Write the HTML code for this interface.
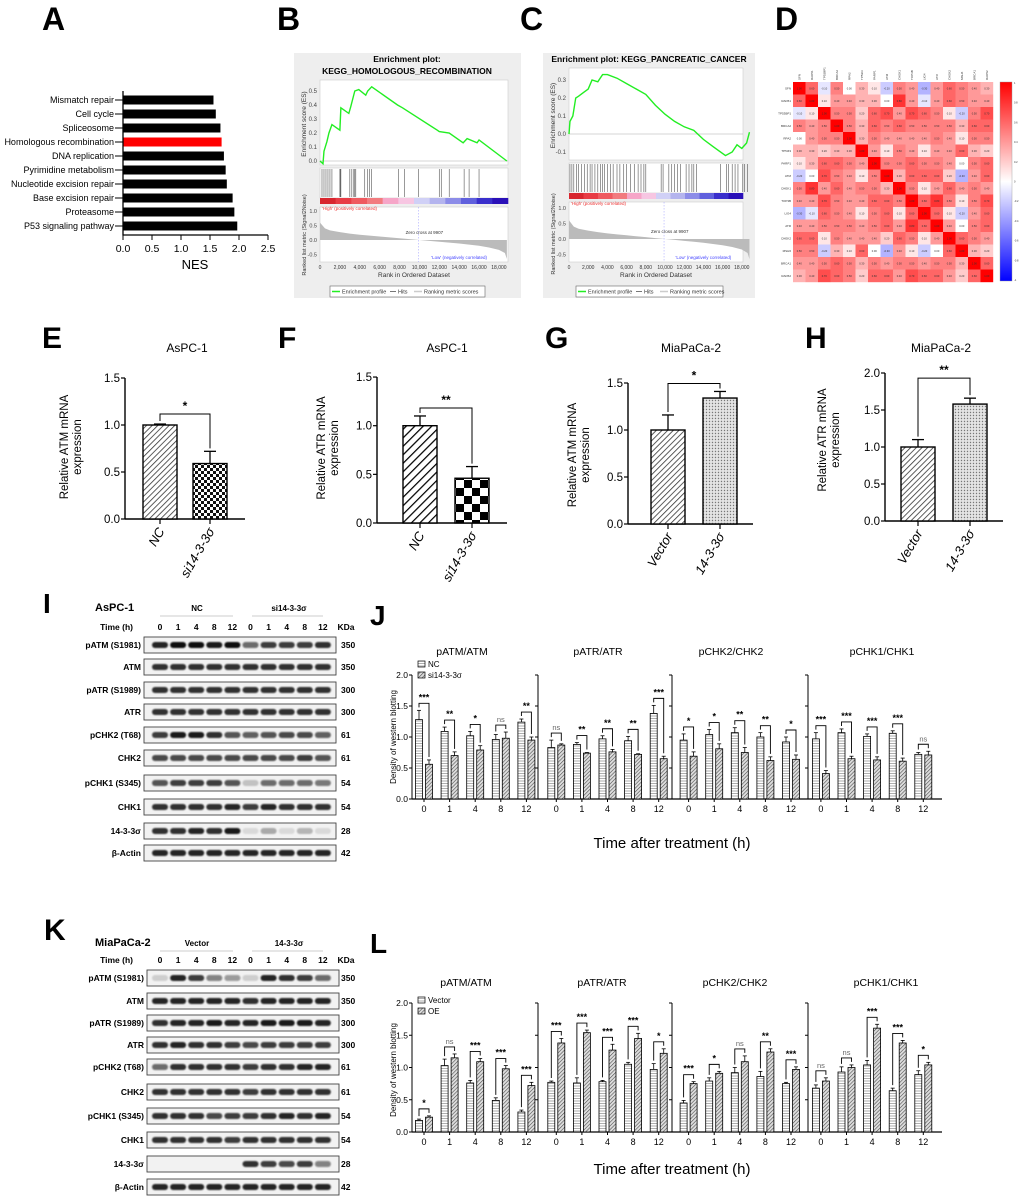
<!DOCTYPE html>
<html><head><meta charset="utf-8">
<style>
html,body{margin:0;padding:0;background:#fff;}
svg{display:block;font-family:"Liberation Sans",sans-serif;}
</style></head>
<body>
<svg id="fig" width="1020" height="1204" viewBox="0 0 1020 1204" xmlns="http://www.w3.org/2000/svg">
<defs>
<pattern id="pDiag" patternUnits="userSpaceOnUse" width="4" height="4" patternTransform="rotate(45)"><rect width="4" height="4" fill="#fff"/><line x1="0" y1="0" x2="0" y2="4" stroke="#333" stroke-width="1.6"/></pattern>
<pattern id="pDiagW" patternUnits="userSpaceOnUse" width="6" height="6" patternTransform="rotate(45)"><rect width="6" height="6" fill="#fff"/><line x1="0" y1="0" x2="0" y2="6" stroke="#000" stroke-width="2.5"/></pattern>
<pattern id="pCheckS" patternUnits="userSpaceOnUse" width="6" height="6"><rect width="6" height="6" fill="#fff"/><rect width="3" height="3" fill="#111"/><rect x="3" y="3" width="3" height="3" fill="#111"/></pattern>
<pattern id="pCheckB" patternUnits="userSpaceOnUse" width="16" height="16"><rect width="16" height="16" fill="#fff"/><rect width="8" height="8" fill="#000"/><rect x="8" y="8" width="8" height="8" fill="#000"/></pattern>
<pattern id="pDots" patternUnits="userSpaceOnUse" width="3" height="3"><rect width="3" height="3" fill="#e4e4e4"/><circle cx="1.5" cy="1.5" r="0.7" fill="#777"/></pattern>
<pattern id="pHl" patternUnits="userSpaceOnUse" width="3" height="2.5"><rect width="3" height="2.5" fill="#fff"/><line x1="0" y1="1" x2="3" y2="1" stroke="#999" stroke-width="0.8"/></pattern>
<pattern id="pDd" patternUnits="userSpaceOnUse" width="2.6" height="2.6" patternTransform="rotate(45)"><rect width="2.6" height="2.6" fill="#ddd"/><line x1="0" y1="0" x2="0" y2="2.6" stroke="#444" stroke-width="1.1"/></pattern>
<linearGradient id="gCb" x1="0" y1="0" x2="0" y2="1"><stop offset="0" stop-color="#ff0000"/><stop offset="0.5" stop-color="#ffffff"/><stop offset="1" stop-color="#0000ff"/></linearGradient>
<filter id="fBlur" x="-20%" y="-50%" width="140%" height="200%"><feGaussianBlur stdDeviation="0.8"/></filter>
</defs>
</svg>
<script>
// ---------- DATA ----------
const pathways=['Mismatch repair','Cell cycle','Spliceosome','Homologous recombination','DNA replication','Pyrimidine metabolism','Nucleotide excision repair','Base excision repair','Proteasome','P53 signaling pathway'];
const nesValues=[1.56,1.60,1.68,1.70,1.74,1.77,1.79,1.89,1.92,1.97];
const nesTicks=[0,0.5,1.0,1.5,2.0,2.5];

const bRanks=[0,0.3,0.4,0.7,0.9,1.2,2.0,2.1,2.9,3.1,3.5,3.9,4.6,4.8,5.2,7.8,8.3,11.8,12.0,13.0,14.4,14.8,15.8,16.0,18.8];
const bES=[0,-0.02,0.07,0.14,0.2,0.26,0.22,0.38,0.34,0.39,0.5,0.51,0.47,0.5,0.53,0.4,0.38,0.22,0.21,0.2,0.13,0.16,0.13,0.15,0];
const bHits=[0.2,0.4,0.6,0.8,1.0,1.2,2.0,2.05,2.1,3.0,3.2,3.4,3.5,3.6,4.5,4.8,5.0,5.2,7.9,8.5,9.9,12.0,12.2,13.0,14.5,15.0,16.0];
const cRanks=[0,0.1,0.4,0.7,1,1.5,2,2.4,3,3.5,4,5,6,7,8,9,10,11,12,13,14,15,16.3,17,17.5,18,18.5,18.8];
const cES=[0,0.07,0.1,0.2,0.21,0.23,0.25,0.3,0.29,0.33,0.33,0.31,0.28,0.25,0.22,0.16,0.11,0.07,0.04,0.02,-0.03,-0.07,-0.12,-0.1,-0.06,-0.08,-0.05,0.01];
const cHits=[0.1,0.3,0.5,0.8,1.0,1.3,1.6,1.9,2.2,2.4,2.7,3.0,3.3,3.5,3.7,4.0,4.3,4.6,5.0,5.3,5.7,6.0,6.4,6.8,7.2,7.5,7.8,8.0,9.6,9.8,10.4,10.7,11.0,11.3,11.6,12.2,12.5,12.8,13.0,13.3,15.8,16.4,16.6,17.0,17.3,17.6,18.1,18.3,18.6];
const metricRanks=[0,0.5,1,2,3,4,5,6,7,8,9,10,11,12,13,14,15,16,17,18,18.6,18.8];
const metricVals=[0.6,0.4,0.33,0.27,0.22,0.18,0.15,0.12,0.09,0.06,0.03,0,-0.03,-0.06,-0.09,-0.12,-0.16,-0.2,-0.26,-0.34,-0.45,-0.65];
const colorBarCols=['#d8262f','#e83c45','#ef5a60','#f27b7f','#f6a6c8','#f7c6e2','#d0d0f6','#b4b4ee','#8c8ce8','#6060dd','#3a2fcc','#2a10b8'];
const rankTicks=[0,2000,4000,6000,8000,10000,12000,14000,16000,18000];

const genes=['SFN','RAD51','TP53BP1','BRCA2','RPA2','TP53I3','PARP1','ATM','CHEK1','TOP3B','LIG4','ATR','CHEK2','MSH6','BRCA1','RAD52'];
const corrRows=[
[1,.6,-.1,.5,0,.3,.1,-.2,.5,.4,-.3,.4,.6,.5,.4,.3],
[.6,1,.1,.4,.4,.3,.3,0,.8,.4,-.1,.4,.6,.5,.4,.4],
[-.1,.1,1,.5,.5,.2,.6,.7,.4,.7,.6,.5,.1,-.2,.5,.7],
[.5,.4,.5,1,.5,.3,.6,.5,.6,.5,.5,.5,.5,.3,.6,.6],
[0,.4,.5,.5,1,.3,.5,.4,.4,.4,.4,.5,.4,.1,.5,.5],
[.3,.3,.2,.3,.3,1,.4,.1,.5,.4,.1,.4,.4,.6,.3,.2],
[.1,.3,.6,.6,.5,.4,1,.5,.5,.6,.5,.5,.4,0,.5,.6],
[-.2,0,.7,.5,.4,.1,.5,1,.3,.6,.6,.6,.2,-.3,.4,.6],
[.5,.8,.4,.6,.4,.5,.5,.3,1,.5,.1,.4,.6,.4,.5,.4],
[.4,.4,.7,.5,.4,.4,.6,.6,.5,1,.6,.8,.5,.1,.5,.7],
[-.3,-.1,.6,.5,.4,.1,.5,.6,.1,.6,1,.6,.1,-.2,.4,.6],
[.4,.4,.5,.5,.5,.4,.5,.6,.4,.8,.6,1,.4,0,.5,.6],
[.6,.6,.1,.5,.4,.4,.4,.2,.6,.5,.1,.4,1,.6,.5,.4],
[.5,.5,-.2,.3,.1,.6,0,-.3,.4,.1,-.2,0,.6,1,.3,.2],
[.4,.4,.5,.6,.5,.3,.5,.4,.5,.5,.4,.5,.5,.3,1,.6],
[.3,.4,.7,.6,.5,.2,.6,.6,.4,.7,.6,.6,.4,.2,.6,1]];

const eCats=['NC','si14-3-3σ'], eValues=[1.0,0.59], eErrors=[0.01,0.13], eTicks=[0,0.5,1.0,1.5];
const fCats=['NC','si14-3-3σ'], fValues=[1.0,0.46], fErrors=[0.1,0.12], fTicks=[0,0.5,1.0,1.5];
const gCats=['Vector','14-3-3σ'], gValues=[1.0,1.34], gErrors=[0.16,0.07], gTicks=[0,0.5,1.0,1.5];
const hCats=['Vector','14-3-3σ'], hValues=[1.0,1.58], hErrors=[0.1,0.08], hTicks=[0,0.5,1.0,1.5,2.0];

const wbGroups=['pATM/ATM','pATR/ATR','pCHK2/CHK2','pCHK1/CHK1'];
const wbTimes=['0','1','4','8','12'];
const wbTicks=[0,0.5,1.0,1.5,2.0];
const jCtrl=[1.28,1.09,1.02,0.96,1.24, 0.83,0.88,0.97,0.94,1.38, 0.95,1.04,1.07,1.0,0.92, 0.97,1.07,1.01,1.06,0.72];
const jTreat=[0.56,0.70,0.79,0.98,0.95, 0.87,0.74,0.76,0.72,0.65, 0.69,0.81,0.75,0.62,0.64, 0.41,0.65,0.63,0.61,0.71];
const jCtrlErr=[.15,.07,.07,.08,.05, .12,.03,.05,.07,.13, .1,.08,.08,.07,.08, .1,.06,.04,.04,.03];
const jTreatErr=[.07,.06,.07,.1,.05, .02,.01,.04,.01,.04, .07,.08,.08,.06,.07, .05,.04,.05,.05,.06];
const jSig=['***','**','*','ns','**','ns','**','**','**','***','*','*','**','**','*','***','***','***','***','ns'];
const lCtrl=[0.18,1.03,0.76,0.49,0.31, 0.77,0.76,0.78,1.05,0.97, 0.45,0.79,0.92,0.86,0.75, 0.68,0.93,1.04,0.64,0.89];
const lTreat=[0.23,1.15,1.09,0.98,0.72, 1.38,1.54,1.27,1.45,1.22, 0.75,0.91,1.09,1.24,0.97, 0.79,1.00,1.61,1.38,1.04];
const lCtrlErr=[.02,.1,.04,.04,.03, .02,.08,.02,.03,.09, .04,.05,.08,.08,.02, .05,.08,.07,.04,.06];
const lTreatErr=[.02,.06,.05,.05,.05, .07,.04,.09,.08,.07, .03,.03,.09,.05,.04, .05,.04,.06,.04,.04];
const lSig=['*','ns','***','***','***','***','***','***','***','*','***','*','ns','**','***','ns','ns','***','***','*'];

const blotProteins=['pATM (S1981)','ATM','pATR (S1989)','ATR','pCHK2 (T68)','CHK2','pCHK1 (S345)','CHK1','14-3-3σ','β-Actin'];
const blotKDa=['350','350','300','300','61','61','54','54','28','42'];
const blotLanes=['0','1','4','8','12','0','1','4','8','12'];
const iIntens=[
[.9,1,1,.95,1,.6,.8,.8,.8,.85],[.85,.85,.85,.85,.85,.85,.85,.85,.85,.85],[.85,.85,.85,.85,.85,.85,.85,.85,.85,.85],[.85,.85,.85,.85,.85,.85,.85,.85,.85,.85],
[.8,.95,.95,.85,.7,.65,.7,.75,.75,.65],[.75,.75,.75,.75,.75,.75,.75,.75,.8,.7],[.7,.8,.8,.8,.7,.2,.6,.6,.6,.55],[.85,.85,.85,.85,.9,.8,.9,.85,.85,.85],
[.85,.85,.9,.85,.95,.1,.3,.1,.25,.1],[.9,.9,.9,.9,.9,.9,.9,.9,.9,.9]];
const kIntens=[
[.15,.9,.8,.5,.4,.15,.9,.85,.8,.6],[.9,.9,.9,.9,.9,.85,.9,.9,.9,.9],[.85,.9,.9,.95,.9,.9,.95,.95,.95,.9],[.85,.9,.85,.85,.8,.75,.8,.8,.8,.8],
[.6,.85,.85,.85,.85,.8,.85,.85,.9,.9],[.85,.85,.85,.85,.85,.8,.85,.85,.85,.85],[.85,.85,.85,.75,.8,.8,.85,.9,.85,.9],[.85,.85,.85,.85,.8,.85,.85,.85,.85,.85],
[0,0,0,0,0,.85,.8,.75,.8,.5],[.9,.9,.9,.9,.9,.9,.9,.9,.9,.9]];

// ---------- HELPERS ----------
const NS='http://www.w3.org/2000/svg';
const svg=document.getElementById('fig');
function mk(tag,attrs,parent){const e=document.createElementNS(NS,tag);for(const k in attrs)e.setAttribute(k,attrs[k]);(parent||svg).appendChild(e);return e;}
function tx(x,y,s,attrs,parent){const e=mk('text',Object.assign({x:x,y:y},attrs||{}),parent);e.textContent=s;return e;}
function grp(name){const g=mk('g',{});return g;}
function line(x1,y1,x2,y2,st,sw,p){return mk('line',{x1:x1,y1:y1,x2:x2,y2:y2,stroke:st||'#000','stroke-width':sw||1},p);}

// ---------- PANEL LETTERS ----------
const letters=[['A',42,30,32],['B',277,30,32],['C',520,30,32],['D',775,30,32],['E',42,348,30],['F',278,348,30],['G',545,348,30],['H',805,348,30],['I',43,613,28],['J',370,625,28],['K',44,940,30],['L',370,953,28]];
letters.forEach(l=>{const t=tx(l[1],l[2],l[0],{'font-size':l[3],'font-weight':'bold'});

});

// ---------- PANEL A ----------
(function(){
const g=grp('panel-a-nes-chart');
const xA=v=>123+v*58; const yA=i=>100+i*14;
pathways.forEach((p,i)=>{
 const r=mk('rect',{x:xA(0),y:yA(i)-4.5,width:xA(nesValues[i])-xA(0),height:9,fill:p==='Homologous recombination'?'#ff0000':'#000'},g);
 
 
 const t=tx(114,yA(i)+3.2,p,{'font-size':9,'text-anchor':'end'},g);
 
 
 line(115,yA(i),123,yA(i),'#000',1,g);
});
line(123,91,123,235.5,'#000',1.3,g); line(123,235,xA(2.5),235,'#000',1.3,g);
nesTicks.forEach(v=>{line(xA(v),235,xA(v),240,'#000',1,g);
 const t=tx(xA(v),252,v.toFixed(1),{'font-size':10.5,'text-anchor':'middle'},g);
 
 });
const t=tx(195,269,'NES',{'font-size':13,'text-anchor':'middle'},g);


})();

// ---------- GSEA B, C ----------
function gsea(cfg){
 const g=grp(cfg.name);
 mk('rect',{x:cfg.bx,y:53,width:cfg.bw,height:245,fill:'#eeeeee'},g);
 const X=r=>cfg.x0+r*cfg.kx/1000, Y=v=>cfg.y0-v*cfg.ky, YM=v=>cfg.m0-v*cfg.mk;
 cfg.titles.forEach((s,i)=>{const t=tx(cfg.tx,cfg.ty+i*12,s,{'font-size':8.5,'font-weight':'bold','text-anchor':'middle'},g);
  
  });
 mk('rect',{x:cfg.x0,y:cfg.top,width:cfg.x1-cfg.x0,height:cfg.hitsTop-3-cfg.top,fill:'#fff',stroke:'#ccc','stroke-width':0.6},g);
 mk('rect',{x:cfg.x0,y:cfg.hitsTop,width:cfg.x1-cfg.x0,height:cfg.barTop-cfg.hitsTop,fill:'#fff',stroke:'#ccc','stroke-width':0.6},g);
 mk('rect',{x:cfg.x0,y:cfg.barTop+9,width:cfg.x1-cfg.x0,height:cfg.mBot-cfg.barTop-9,fill:'#fff',stroke:'#ccc','stroke-width':0.6},g);
 line(cfg.x0,Y(0),cfg.x1,Y(0),'#aaa',0.6,g);
 cfg.esTicks.forEach(v=>{const t=tx(cfg.x0-3,Y(v)+2,v.toFixed(1),{'font-size':6,'text-anchor':'end',fill:'#444'},g);
  
  });
 const pts=cfg.ranks.map((r,i)=>X(r*1000)+','+Y(cfg.es[i])).join(' ');
 const pl=mk('polyline',{points:pts,fill:'none',stroke:'#22ee22','stroke-width':1.4},g);
 
 
 cfg.hits.forEach(h=>{const l=line(X(h*1000),cfg.hitsTop+1,X(h*1000),cfg.barTop-1,'#555',0.6,g);
  
  });
 const sw=(cfg.x1-cfg.x0)/colorBarCols.length;
 colorBarCols.forEach((c,i)=>mk('rect',{x:cfg.x0+i*sw,y:cfg.barTop,width:sw+0.3,height:6,fill:c},g));
 tx(cfg.x0+2,cfg.barTop+12,"'High' (positively correlated)",{'font-size':4.5,fill:'#e33'},g);
 let mp='M'+X(0)+','+YM(0);
 metricRanks.forEach((r,i)=>{mp+=' L'+X(r*1000)+','+YM(metricVals[i]);});
 mp+=' L'+X(18800)+','+YM(0)+'Z';
 const ma=mk('path',{d:mp,fill:'#bbb'},g);
 
 
 line(X(9900),cfg.barTop+9,X(9900),cfg.mBot,'#99f',0.5,g).setAttribute('stroke-dasharray','1.5,1.5');
 tx(X(10500),YM(0)-6,'Zero cross at 9907',{'font-size':4.5,fill:'#333','text-anchor':'middle'},g);
 tx(X(14000),cfg.mBot-3,"'Low' (negatively correlated)",{'font-size':4.5,fill:'#44f','text-anchor':'middle'},g);
 [1.0,0.5,0.0,-0.5].forEach(v=>{const t=tx(cfg.x0-3,YM(v)+2,v.toFixed(1),{'font-size':5.5,'text-anchor':'end',fill:'#444'},g);
  
  });
 rankTicks.forEach(r=>{const t=tx(X(r),cfg.mBot+7,r===0?'0':r.toLocaleString('en-US'),{'font-size':5,'text-anchor':'middle',fill:'#333'},g);
  
  });
 const rl=tx((cfg.x0+cfg.x1)/2,277,'Rank in Ordered Dataset',{'font-size':6.5,'text-anchor':'middle',fill:'#333'},g);
 
 
 const yl=tx(0,0,'Enrichment score (ES)',{'font-size':6.5,'text-anchor':'middle',fill:'#333',transform:'translate('+(cfg.bx+12)+','+((cfg.top+cfg.hitsTop)/2)+') rotate(-90)'},g);
 
 
 const y2=tx(0,0,'Ranked list metric (Signal2Noise)',{'font-size':5.5,'text-anchor':'middle',fill:'#333',transform:'translate('+(cfg.bx+12)+','+(cfg.m0-5)+') rotate(-90)'},g);
 
 
 const lg=mk('rect',{x:cfg.lx,y:286,width:cfg.lw,height:11,fill:'#fff',stroke:'#666','stroke-width':0.6},g);
 
 
 line(cfg.lx+2,291.5,cfg.lx+10,291.5,'#22ee22',1.5,g);
 tx(cfg.lx+12,293.5,'Enrichment profile',{'font-size':5.5,fill:'#333'},g);
 line(cfg.lx+60,291.5,cfg.lx+66,291.5,'#555',0.8,g);
 tx(cfg.lx+68,293.5,'Hits',{'font-size':5.5,fill:'#333'},g);
 line(cfg.lx+84,291.5,cfg.lx+92,291.5,'#ccc',1.5,g);
 tx(cfg.lx+94,293.5,'Ranking metric scores',{'font-size':5.5,fill:'#333'},g);
}
gsea({name:'panel-b-gsea-homologous-recombination',bx:294,bw:227,tx:407,ty:62,titles:['Enrichment plot:','KEGG_HOMOLOGOUS_RECOMBINATION'],
 x0:320,x1:508,kx:9.94,y0:161,ky:140,top:80,hitsTop:168,barTop:198,m0:240,mk:29,mBot:262,esTicks:[0,0.1,0.2,0.3,0.4,0.5],
 ranks:bRanks,es:bES,hits:bHits,lx:330,lw:155});
gsea({name:'panel-c-gsea-pancreatic-cancer',bx:543,bw:212,tx:649,ty:62,titles:['Enrichment plot: KEGG_PANCREATIC_CANCER'],
 x0:569,x1:743,kx:9.6,y0:134,ky:180,top:68,hitsTop:163,barTop:193,m0:239,mk:31,mBot:262,esTicks:[-0.1,0,0.1,0.2,0.3],
 ranks:cRanks,es:cES,hits:cHits,lx:576,lw:147});

// ---------- PANEL D HEATMAP ----------
(function(){
 const g=grp('panel-d-correlation-heatmap');
 const x0=793,y0=82,cs=200/16;
 function col(v){if(v>=0){const k=Math.round(255*(1-v));return 'rgb(255,'+k+','+k+')';}const k=Math.round(255*(1+v));return 'rgb('+k+','+k+',255)';}
 corrRows.forEach((row,i)=>row.forEach((v,j)=>{
  const c=mk('rect',{x:x0+j*cs,y:y0+i*cs,width:cs+0.2,height:cs+0.2,fill:col(v)},g);
  
  
  tx(x0+j*cs+cs/2,y0+i*cs+cs/2+1,v.toFixed(2),{'font-size':2.6,'text-anchor':'middle',fill:'#333'},g);
 }));
 genes.forEach((n,i)=>{
  const a=tx(x0-2,y0+i*cs+cs/2+1,n,{'font-size':3,'text-anchor':'end',fill:'#333'},g);
  
  
  const b=tx(0,0,n,{'font-size':3,fill:'#333',transform:'translate('+(x0+i*cs+cs/2+1)+','+(y0-2)+') rotate(-90)'},g);
  
  
 });
 const cb=mk('rect',{x:1000,y:82,width:12,height:199,fill:'url(#gCb)',stroke:'#999','stroke-width':0.4},g);
 
 
 [1,0.8,0.6,0.4,0.2,0,-0.2,-0.4,-0.6,-0.8,-1].forEach((v,i)=>tx(1014,84+i*19.7,String(v),{'font-size':2.6,fill:'#333'},g));
})();

// ---------- PANELS E-H ----------
function qbar(cfg){
 const g=grp(cfg.name);
 const Y=v=>cfg.y0-v*cfg.ky;
 const t=tx(cfg.titleX,352,cfg.title,{'font-size':12,'text-anchor':'middle'},g);
 
 
 const top=cfg.ticks[cfg.ticks.length-1];
 line(cfg.ax,Y(top),cfg.ax,cfg.y0,'#000',1.4,g);
 line(cfg.ax,cfg.y0,cfg.axEnd,cfg.y0,'#000',1.4,g);
 cfg.ticks.forEach(v=>{line(cfg.ax-4,Y(v),cfg.ax,Y(v),'#000',1.2,g);
  const l=tx(cfg.ax-5,Y(v)+4,v.toFixed(1),{'font-size':11.5,'text-anchor':'end'},g);
  
  });
 const tops=[];
 cfg.cats.forEach((c,i)=>{
  const x=cfg.bars[i], w=34, cx=x+w/2;
  const r=mk('rect',{x:x,y:Y(cfg.vals[i]),width:w,height:Y(0)-Y(cfg.vals[i]),fill:'url(#'+cfg.fills[i]+')',stroke:'#000','stroke-width':1.4},g);
  
  
  const ey=Y(cfg.vals[i]+cfg.errs[i]);
  line(cx,Y(cfg.vals[i]),cx,ey,'#000',1.3,g); line(cx-6,ey,cx+6,ey,'#000',1.3,g);
  tops.push(ey);
  line(cx,cfg.y0,cx,cfg.y0+5,'#000',1.2,g);
  const l=tx(0,0,c,{'font-size':13,'font-style':'italic','text-anchor':'end',transform:'translate('+(cx+5)+','+(cfg.y0+12)+') rotate(-60)'},g);
  
  
 });
 const c0=cfg.bars[0]+17,c1=cfg.bars[1]+17,by=Math.min(tops[0],tops[1])-cfg.gap;
 mk('polyline',{points:c0+','+(tops[0]-3)+' '+c0+','+by+' '+c1+','+by+' '+c1+','+(tops[1]-3),fill:'none',stroke:'#000','stroke-width':1},g);
 const s=tx((c0+c1)/2,by-4,cfg.sig,{'font-size':12,'font-weight':'bold','text-anchor':'middle'},g);
 
 
 const yl=tx(0,0,'',{'font-size':11.5,'text-anchor':'middle',transform:'translate('+cfg.ylx+','+cfg.yly+') rotate(-90)'},g);
 
 
 const t1=mk('tspan',{x:0,dy:0},yl); t1.textContent=cfg.ylab;
 const t2=mk('tspan',{x:0,dy:13},yl); t2.textContent='expression';
}
qbar({name:'panel-e-atm-aspc1',title:'AsPC-1',titleX:187,ax:125,axEnd:245,y0:519,ky:94,ticks:eTicks,cats:eCats,vals:eValues,errs:eErrors,bars:[143,193],fills:['pDiag','pCheckS'],sig:'*',gap:10,ylab:'Relative ATM mRNA',ylx:68,yly:447});
qbar({name:'panel-f-atr-aspc1',title:'AsPC-1',titleX:447,ax:377,axEnd:507,y0:523,ky:97.3,ticks:fTicks,cats:fCats,vals:fValues,errs:fErrors,bars:[403,455],fills:['pDiagW','pCheckB'],sig:'**',gap:8,ylab:'Relative ATR mRNA',ylx:325,yly:448});
qbar({name:'panel-g-atm-miapaca2',title:'MiaPaCa-2',titleX:691,ax:628,axEnd:753,y0:524,ky:94,ticks:gTicks,cats:gCats,vals:gValues,errs:gErrors,bars:[651,703],fills:['pDiag','pDots'],sig:'*',gap:8,ylab:'Relative ATM mRNA',ylx:576,yly:455});
qbar({name:'panel-h-atr-miapaca2',title:'MiaPaCa-2',titleX:941,ax:885,axEnd:1003,y0:521,ky:74,ticks:hTicks,cats:hCats,vals:hValues,errs:hErrors,bars:[901,953],fills:['pDiag','pDots'],sig:'**',gap:20,ylab:'Relative ATR mRNA',ylx:826,yly:440});

// ---------- WESTERN BLOT QUANT J, L ----------
function wb(cfg){
 const g=grp(cfg.name);
 const Y=v=>cfg.y0-v*cfg.ky;
 const X=(gi,i)=>424+gi*132.3+i*25.6;
 wbGroups.forEach((s,gi)=>{const t=tx(cfg.subX[gi],cfg.subY,s,{'font-size':10.5,'text-anchor':'middle'},g);
  
  });
 line(412,Y(2),412,cfg.y0,'#000',1,g);
 wbTicks.forEach(v=>{line(409,Y(v),412,Y(v),'#000',1,g);
  const t=tx(408,Y(v)+3,v.toFixed(1),{'font-size':8.5,'text-anchor':'end'},g);
  
  });
 [538,672,808].forEach(sx=>{line(sx,Y(2),sx,cfg.y0,'#000',1,g);
  wbTicks.forEach(v=>line(sx-3,Y(v),sx,Y(v),'#000',1,g));});
 line(412,cfg.y0,942,cfg.y0,'#000',1.2,g);
 for(let k=0;k<20;k++){
  const gi=Math.floor(k/5),i=k%5,cx=X(gi,i);
  line(cx,cfg.y0,cx,cfg.y0+3,'#000',1,g);
  const tl=tx(cx,cfg.y0+13,wbTimes[i],{'font-size':9,'text-anchor':'middle'},g);
  
  
  const a=mk('rect',{x:cx-8.5,y:Y(cfg.a[k]),width:7,height:Y(0)-Y(cfg.a[k]),fill:'url(#pHl)',stroke:'#000','stroke-width':0.8},g);
  
  
  const b=mk('rect',{x:cx+1.5,y:Y(cfg.b[k]),width:7,height:Y(0)-Y(cfg.b[k]),fill:'url(#pDd)',stroke:'#000','stroke-width':0.8},g);
  
  
  const ea=Y(cfg.a[k]+cfg.ea[k]),eb=Y(cfg.b[k]+cfg.eb[k]);
  line(cx-5,Y(cfg.a[k]),cx-5,ea,'#000',0.8,g); line(cx-7,ea,cx-3,ea,'#000',0.8,g);
  line(cx+5,Y(cfg.b[k]),cx+5,eb,'#000',0.8,g); line(cx+3,eb,cx+7,eb,'#000',0.8,g);
  const by=Math.min(ea,eb)-7;
  mk('polyline',{points:(cx-5)+','+(ea-3)+' '+(cx-5)+','+by+' '+(cx+5)+','+by+' '+(cx+5)+','+(eb-3),fill:'none',stroke:'#000','stroke-width':0.9},g);
  const ns=cfg.sig[k]==='ns';
  const st=tx(cx,by-3,cfg.sig[k],{'font-size':ns?7.5:9,'font-weight':ns?'normal':'bold','text-anchor':'middle',fill:ns?'#666':'#000'},g);
  
  
 }
 mk('rect',{x:418,y:cfg.legY-6,width:7,height:6,fill:'url(#pHl)',stroke:'#000','stroke-width':0.7},g);
 mk('rect',{x:418,y:cfg.legY+5,width:7,height:6,fill:'url(#pDd)',stroke:'#000','stroke-width':0.7},g);
 const l1=tx(428,cfg.legY,cfg.leg[0],{'font-size':8},g);
 
 
 const l2=tx(428,cfg.legY+11,cfg.leg[1],{'font-size':8},g);
 
 
 const yl=tx(0,0,'Density of western blotting',{'font-size':8,'text-anchor':'middle',transform:'translate(396,'+(cfg.y0-62)+') rotate(-90)'},g);
 
 
 const xt=tx(672,cfg.titleY,'Time after treatment (h)',{'font-size':15,'text-anchor':'middle'},g);
 
 
}
wb({name:'panel-j-aspc1-quantification',y0:799,ky:62,a:jCtrl,b:jTreat,ea:jCtrlErr,eb:jTreatErr,sig:jSig,subX:[462,598,731,882],subY:655,legY:667,leg:['NC','si14-3-3σ'],titleY:848});
wb({name:'panel-l-miapaca2-quantification',y0:1132,ky:64.5,a:lCtrl,b:lTreat,ea:lCtrlErr,eb:lTreatErr,sig:lSig,subX:[466,602,735,886],subY:986,legY:1003,leg:['Vector','OE'],titleY:1174});

// ---------- BLOTS I, K ----------
function blot(cfg){
 const g=grp(cfg.name);
 const LX=i=>160+i*18.1;
 const h=tx(95,cfg.hy,cfg.cell,{'font-size':11,'font-weight':'bold'},g);
 
 
 const a=tx(197,cfg.hy,cfg.c1,{'font-size':8,'font-weight':'bold','text-anchor':'middle'},g);
 
 
 const b=tx(289,cfg.hy,cfg.c2,{'font-size':8,'font-weight':'bold','text-anchor':'middle'},g);
 
 
 line(160,cfg.hy+5,233,cfg.hy+5,'#bbb',0.8,g); line(252,cfg.hy+5,323,cfg.hy+5,'#bbb',0.8,g);
 tx(133,cfg.ty,'Time (h)',{'font-size':8.5,'font-weight':'bold','text-anchor':'end'},g);
 blotLanes.forEach((s,i)=>{const t=tx(LX(i),cfg.ty,s,{'font-size':8.5,'font-weight':'bold','text-anchor':'middle'},g);
  
  });
 tx(346,cfg.ty,'KDa',{'font-size':8.5,'font-weight':'bold','text-anchor':'middle'},g);
 blotProteins.forEach((p,r)=>{
  const cy=cfg.rows[r];
  const box=mk('rect',{x:cfg.bx,y:cy-8,width:192,height:16,fill:'#f2f2f2',stroke:'#444','stroke-width':0.9},g);
  
  
  cfg.int[r].forEach((v,i)=>{if(v<=0)return;
   const bd=mk('rect',{x:LX(i)-8,y:cy-3,width:16,height:6,rx:3,fill:'#111','fill-opacity':v,filter:'url(#fBlur)'},g);
   
   });
  const lb=tx(cfg.bx-3,cy+3,p,{'font-size':8.5,'font-weight':'bold','text-anchor':'end'},g);
  
  
  const kd=tx(341,cy+3,blotKDa[r],{'font-size':8.5,'font-weight':'bold'},g);
  
  
 });
}
blot({name:'panel-i-aspc1-blots',cell:'AsPC-1',c1:'NC',c2:'si14-3-3σ',hy:611,ty:630,bx:144,rows:[645,667,690,712,735,758,783,807,831,853],int:iIntens});
blot({name:'panel-k-miapaca2-blots',cell:'MiaPaCa-2',c1:'Vector',c2:'14-3-3σ',hy:946,ty:963,bx:147,rows:[978,1001,1023,1045,1067,1092,1116,1140,1164,1187],int:kIntens});
</script>
</body></html>
